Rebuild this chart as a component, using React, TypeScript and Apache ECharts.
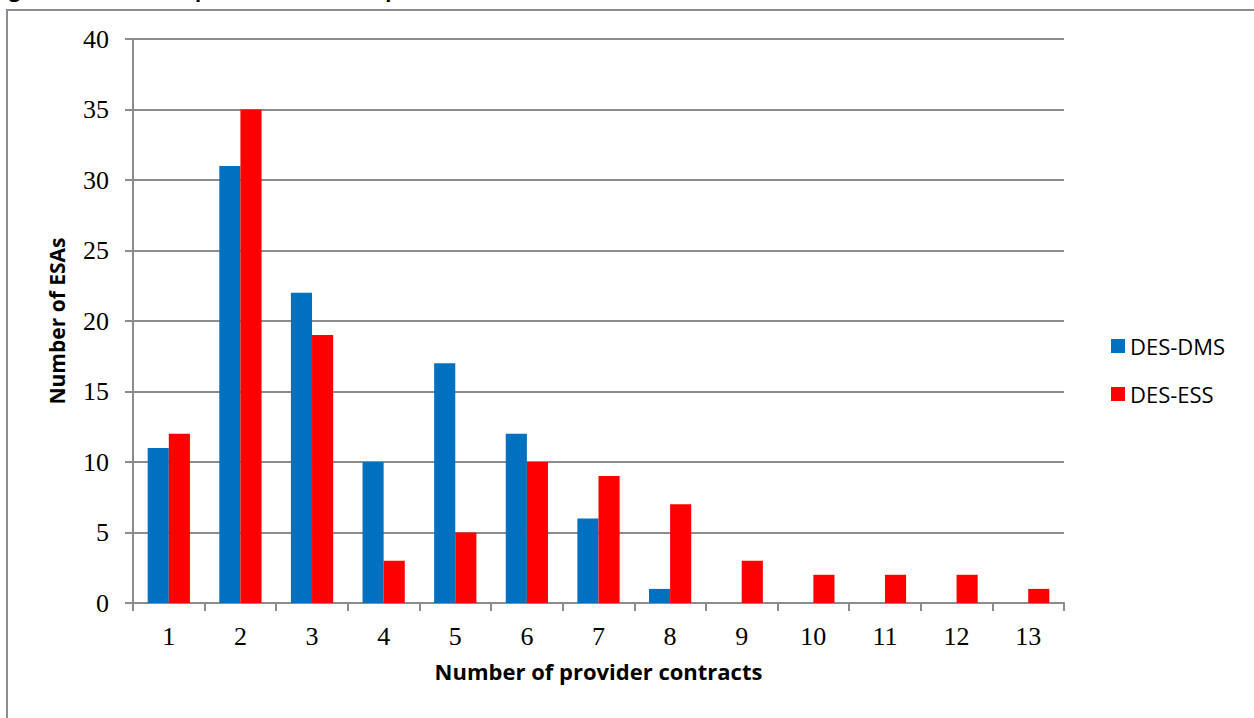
import React, { useEffect, useRef } from "react";
import * as echarts from "echarts";

const categories = ["1", "2", "3", "4", "5", "6", "7", "8", "9", "10", "11", "12", "13"];
const desDms = [11, 31, 22, 10, 17, 12, 6, 1, 0, 0, 0, 0, 0];
const desEss = [12, 35, 19, 3, 5, 10, 9, 7, 3, 2, 2, 2, 1];
const yTicks = { min: 0, max: 40, interval: 5 };

export default function App() {
  const ref = useRef<HTMLDivElement>(null);
  useEffect(() => {
    if (!ref.current) return;
    const chart = echarts.init(ref.current, null, { renderer: "svg" });
    const serif = "'Liberation Serif', 'DejaVu Serif', serif";
    const sans = "'Open Sans', 'Liberation Sans', sans-serif";
    chart.setOption({
      animation: false,
      backgroundColor: "#ffffff",
      graphic: [
        {
          type: "rect",
          shape: { x: 7, y: 10, width: 1400, height: 900 },
          style: { fill: "none", stroke: "#8c8c8c", lineWidth: 2 },
          silent: true,
        },
        {
          type: "text",
          x: -8,
          y: -21,
          style: {
            text: "Figure 5: Number of provider contracts per ESA",
            font: "bold 20px " + sans,
            fill: "#000",
          },
        },
      ],
      legend: {
        orient: "vertical",
        left: 1106,
        top: 330,
        itemWidth: 14,
        itemHeight: 14,
        itemGap: 26,
        icon: "rect",
        textStyle: { fontFamily: sans, fontSize: 22, color: "#000" },
        data: ["DES-DMS", "DES-ESS"],
      },
      grid: { left: 133, right: 190, top: 39, bottom: 115 },
      xAxis: {
        type: "category",
        data: categories,
        boundaryGap: true,
        axisLine: { lineStyle: { color: "#8c8c8c", width: 2 } },
        axisTick: { show: true, length: 8, lineStyle: { color: "#8c8c8c", width: 2 } },
        axisLabel: { fontFamily: serif, fontSize: 26, color: "#000", margin: 20 },
        name: "Number of provider contracts",
        nameLocation: "middle",
        nameGap: 57,
        nameTextStyle: { fontFamily: sans, fontSize: 22, fontWeight: "bold", color: "#000" },
      },
      yAxis: {
        type: "value",
        min: yTicks.min,
        max: yTicks.max,
        interval: yTicks.interval,
        axisLine: { show: true, lineStyle: { color: "#8c8c8c", width: 2 } },
        axisTick: { show: true, length: 8, lineStyle: { color: "#8c8c8c", width: 2 } },
        splitLine: { lineStyle: { color: "#8c8c8c", width: 2 } },
        axisLabel: { fontFamily: serif, fontSize: 26, color: "#000", margin: 24 },
        name: "Number of ESAs",
        nameLocation: "middle",
        nameGap: 66,
        nameRotate: 90,
        nameTextStyle: { fontFamily: sans, fontSize: 21, fontWeight: "bold", color: "#000" },
      },
      series: [
        {
          name: "DES-DMS",
          type: "bar",
          data: desDms,
          itemStyle: { color: "#0070C0" },
          barGap: "0%",
          barCategoryGap: "41%",
        },
        {
          name: "DES-ESS",
          type: "bar",
          data: desEss,
          itemStyle: { color: "#FF0000" },
          barGap: "0%",
          barCategoryGap: "41%",
        },
      ],
    });
    return () => chart.dispose();
  }, []);
  return (
    <div
      ref={ref}
      style={{ position: "fixed", left: 0, top: 0, width: 1254, height: 718 }}
    />
  );
}
